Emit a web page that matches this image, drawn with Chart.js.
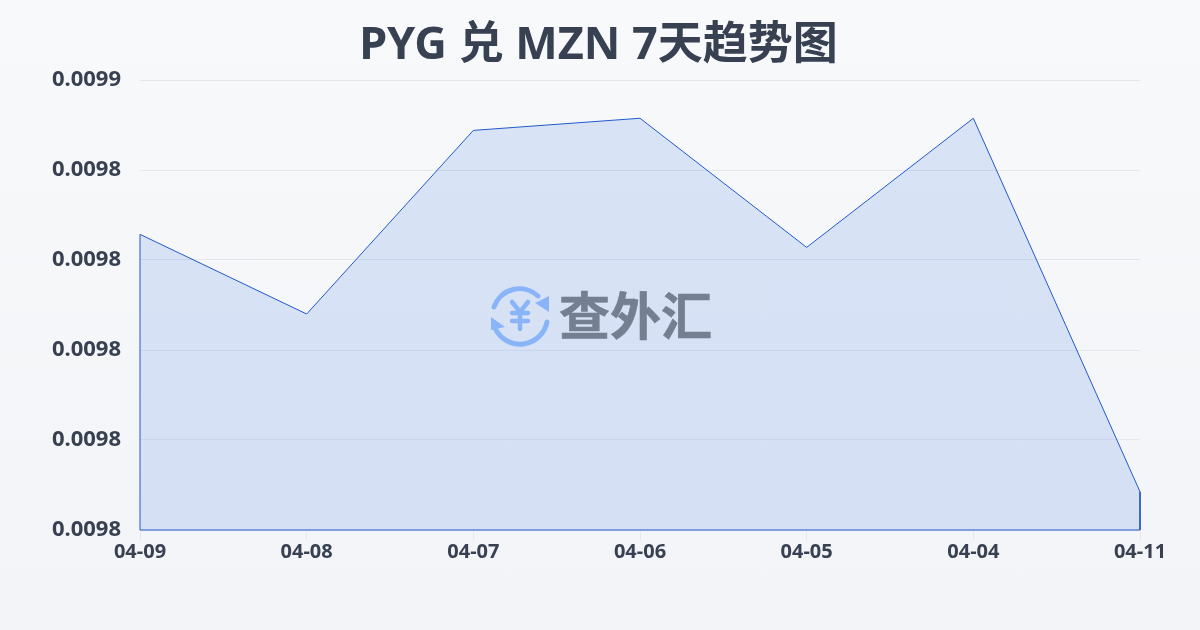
<!DOCTYPE html>
<html>
<head>
<meta charset="utf-8">
<script src="https://cdn.jsdelivr.net/npm/chart.js@4/dist/chart.umd.min.js"></script>
<style>
  html, body { margin: 0; padding: 0; }
  body { width: 1200px; height: 630px; overflow: hidden; position: relative;
         background: linear-gradient(180deg, #f8f9fb 0%, #f3f4f7 100%); }
  canvas { position: absolute; left: 0; top: 0; }
  #mark { position: absolute; left: 488px; top: 283px; width: 230px; height: 64px; }
  #mark span { position: absolute; left: 71px; top: -7px; font: 700 51px "Noto Sans CJK SC"; color: #757f92;
               -webkit-text-stroke: 0.6px #757f92; white-space: nowrap; }
</style>
</head>
<body>
<canvas id="chart" width="1200" height="630"></canvas>
<div id="mark">
  <svg width="64" height="64" viewBox="0 0 64 64" fill="none" stroke="#8ab4f8" stroke-linecap="round">
    <path d="M6 24 A27 27 0 0 1 50 13" stroke-width="5"/>
    <path d="M59 39 A27.5 27.5 0 0 1 7 45" stroke-width="5"/>
    <path d="M61 13 L61 29 L47 20 Z" fill="#8ab4f8" stroke="none"/>
    <path d="M3 34 L3 47 L17 44 Z" fill="#8ab4f8" stroke="none"/>
    <path d="M24 19 L32 29 L40 19 M24 30 H40 M24 38 H40 M32 29 V46" stroke-width="4.5"/>
  </svg>
  <span>查外汇</span>
</div>
<script>
const titleText = 'PYG 兑 MZN 7天趋势图';
const categories = ['04-09', '04-08', '04-07', '04-06', '04-05', '04-04', '04-11'];
const rates = [0.0098257, 0.009808, 0.0098488, 0.0098515, 0.0098228, 0.0098515, 0.0097685];
const axisMin = 0.00976;
const axisMax = 0.00986;
const axisStep = 0.00002;

// outline runs down to the axis at both ends, so the area gets a closed edge
const first = categories[0];
const last = categories[categories.length - 1];
const outline = [{ x: first, y: axisMin }]
  .concat(categories.map((c, i) => ({ x: c, y: rates[i] })))
  .concat([{ x: last, y: axisMin }, { x: first, y: axisMin }]);

const textColor = '#374151';
const fontFamily = '"Noto Sans", "Noto Sans CJK SC"';

new Chart(document.getElementById('chart').getContext('2d'), {
  type: 'line',
  data: {
    labels: categories,
    datasets: [
      {
        data: rates,
        borderWidth: 0,
        borderColor: 'rgba(0,0,0,0)',
        backgroundColor: 'rgba(30, 100, 225, 0.14)',
        fill: 'start',
        tension: 0,
        pointRadius: 0
      },
      {
        data: outline,
        borderColor: '#2258c8',
        borderWidth: 1,
        fill: false,
        tension: 0,
        pointRadius: 0,
        clip: false
      }
    ]
  },
  options: {
    responsive: false,
    animation: false,
    layout: { padding: { left: 0, right: 3, bottom: 60 } },
    plugins: {
      legend: { display: false },
      tooltip: { enabled: false },
      title: {
        display: true,
        text: titleText,
        color: textColor,
        font: { family: fontFamily, size: 45, weight: '700', lineHeight: 1.2 },
        padding: { top: 19, bottom: 7 }
      }
    },
    scales: {
      x: {
        offset: false,
        grid: { color: 'rgba(0,0,0,0)', tickColor: '#e5e7eb', tickLength: 10, drawTicks: true },
        border: { display: false },
        ticks: {
          color: textColor,
          padding: 0,
          maxRotation: 0,
          autoSkip: false,
          font: { family: fontFamily, size: 20, weight: '700' }
        },
        afterFit: scale => { scale.height = 40; }
      },
      y: {
        min: axisMin,
        max: axisMax,
        grid: { color: '#e5e7eb', drawTicks: false },
        border: { display: false },
        ticks: {
          stepSize: axisStep,
          color: textColor,
          padding: 19,
          font: { family: fontFamily, size: 22, weight: '700' },
          callback: v => v.toFixed(4)
        },
        afterFit: scale => { scale.width = 140; }
      },
      // empty axis on the right only reserves the margin, so the title stays centred on the page
      yRight: {
        position: 'right',
        grid: { display: false },
        border: { display: false },
        ticks: { display: false },
        afterFit: scale => { scale.width = 57; }
      }
    }
  }
});
</script>
</body>
</html>
